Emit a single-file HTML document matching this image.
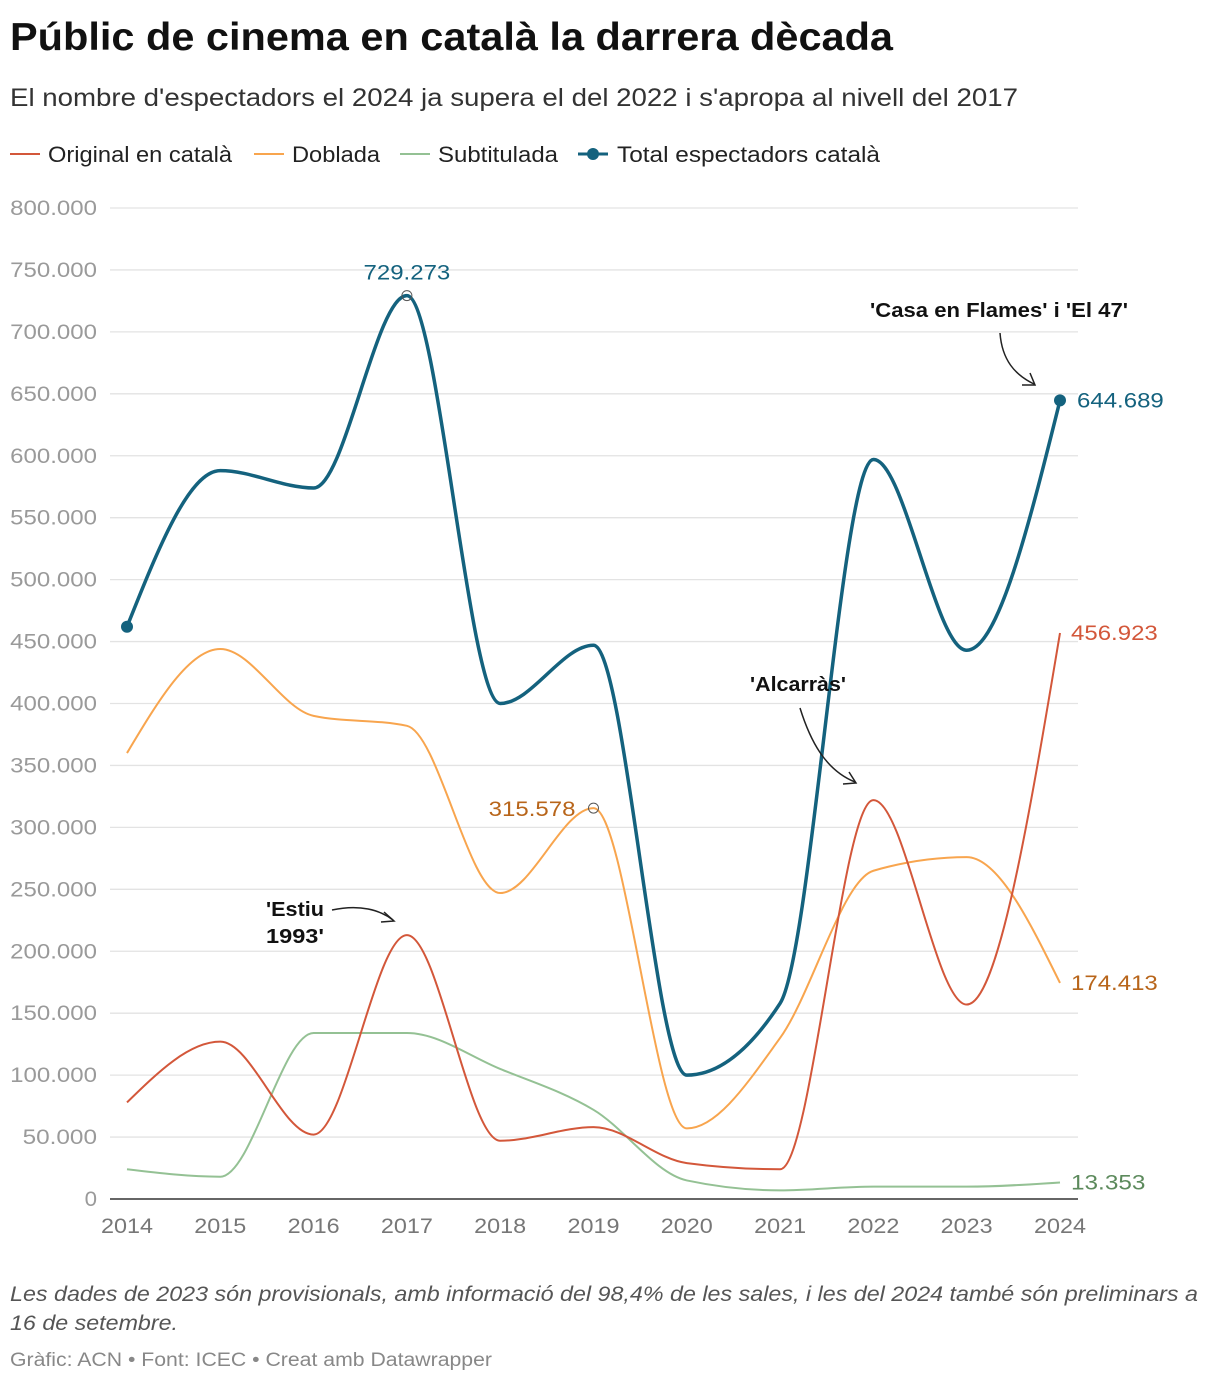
<!DOCTYPE html>
<html><head><meta charset="utf-8">
<style>
body{margin:0;background:#fff;font-family:"Liberation Sans",sans-serif;}
svg text{font-family:"Liberation Sans",sans-serif;}
</style></head>
<body>
<svg id="chart" width="1220" height="1382" viewBox="0 0 1220 1382" xmlns="http://www.w3.org/2000/svg">
<text x="10" y="50" font-size="39" font-weight="bold" fill="#111" textLength="883" lengthAdjust="spacingAndGlyphs">Públic de cinema en català la darrera dècada</text>
<text x="10" y="106" font-size="25" fill="#333" textLength="1008" lengthAdjust="spacingAndGlyphs">El nombre d'espectadors el 2024 ja supera el del 2022 i s'apropa al nivell del 2017</text>
<g font-size="22" fill="#222">
 <g><line x1="10" x2="40" y1="154" y2="154" stroke="#d3573a" stroke-width="2"/><text x="48" y="162" textLength="184" lengthAdjust="spacingAndGlyphs">Original en català</text></g>
 <g><line x1="254" x2="284" y1="154" y2="154" stroke="#f8a54e" stroke-width="2"/><text x="292" y="162" textLength="88" lengthAdjust="spacingAndGlyphs">Doblada</text></g>
 <g><line x1="400" x2="430" y1="154" y2="154" stroke="#94c194" stroke-width="2"/><text x="438" y="162" textLength="120" lengthAdjust="spacingAndGlyphs">Subtitulada</text></g>
 <g><line x1="578" x2="608" y1="154" y2="154" stroke="#14627e" stroke-width="3"/><circle cx="593" cy="154" r="6" fill="#14627e"/><text x="617" y="162" textLength="263" lengthAdjust="spacingAndGlyphs">Total espectadors català</text></g>
</g>
<g id="grid"></g>
<g id="series"></g>
<g id="labels"></g>
<g font-size="20" font-weight="bold" fill="#111">
 <text x="266" y="916" textLength="58" lengthAdjust="spacingAndGlyphs">'Estiu</text>
 <text x="266" y="943" textLength="58" lengthAdjust="spacingAndGlyphs">1993'</text>
 <path d="M332 910 C360 904 380 910 393 920" stroke="#222" stroke-width="1.5" fill="none"/>
 <path d="M384 912 L394 921 L381 922" stroke="#222" stroke-width="1.5" fill="none"/>
 <text x="750" y="691" textLength="96" lengthAdjust="spacingAndGlyphs">'Alcarràs'</text>
 <path d="M800 708 C810 740 825 770 855 782" stroke="#222" stroke-width="1.5" fill="none"/>
 <path d="M843 784 L856 783 L849 772" stroke="#222" stroke-width="1.5" fill="none"/>
 <text x="870" y="317" textLength="258" lengthAdjust="spacingAndGlyphs">'Casa en Flames' i 'El 47'</text>
 <path d="M1000 333 C1002 360 1015 375 1034 384" stroke="#222" stroke-width="1.5" fill="none"/>
 <path d="M1022 385 L1035 385 L1030 373" stroke="#222" stroke-width="1.5" fill="none"/>
</g>
<text x="10" y="1301" font-size="21" font-style="italic" fill="#555" textLength="1188" lengthAdjust="spacingAndGlyphs">Les dades de 2023 són provisionals, amb informació del 98,4% de les sales, i les del 2024 també són preliminars a</text>
<text x="10" y="1330" font-size="21" font-style="italic" fill="#555" textLength="168" lengthAdjust="spacingAndGlyphs">16 de setembre.</text>
<text x="10" y="1366" font-size="19" fill="#888" textLength="482" lengthAdjust="spacingAndGlyphs">Gràfic: ACN • Font: ICEC • Creat amb Datawrapper</text>
</svg>
<script>
const years=[2014,2015,2016,2017,2018,2019,2020,2021,2022,2023,2024];
const yTicks=[0,50000,100000,150000,200000,250000,300000,350000,400000,450000,500000,550000,600000,650000,700000,750000,800000];
const original=[78000,127000,52000,213000,47000,58000,29000,24000,322000,157000,456923];
const doblada=[360000,444000,390000,382000,247000,315578,57000,130000,265000,276000,174413];
const subtitulada=[24000,18000,134000,134000,105000,72000,15000,7000,10000,10000,13353];
const total=[462000,588000,574000,729273,400000,447000,100000,158000,597000,443000,644689];
const NS="http://www.w3.org/2000/svg";
const xS=y=>127+(y-2014)*93.3;
const yS=v=>1199-v*(991/800000);
function mk(t,a,p){const e=document.createElementNS(NS,t);for(const k in a)e.setAttribute(k,a[k]);if(p)p.appendChild(e);return e;}
const grid=document.getElementById('grid'),ser=document.getElementById('series'),lab=document.getElementById('labels');
yTicks.forEach(v=>{
 const l=mk('line',{x1:110,x2:1078,y1:yS(v),y2:yS(v),stroke:v===0?'#333':'#e3e3e3','stroke-width':v===0?1.5:1.3},grid);
 
 
 const s=v===0?'0':v.toLocaleString('de-DE');
 const t=mk('text',{x:97,y:yS(v)+7,'text-anchor':'end','font-size':21,fill:'#9a9a9a',textLength:s.length*12.4,lengthAdjust:'spacingAndGlyphs'},grid);
 t.textContent=s;
 
 
});
years.forEach(y=>{
 const t=mk('text',{x:xS(y),y:1233,'text-anchor':'middle','font-size':21,fill:'#777',textLength:52,lengthAdjust:'spacingAndGlyphs'},grid);
 t.textContent=y;
 
 
});
function monotone(xs,ys){
 const n=xs.length,d=[],m=[];
 for(let i=0;i<n-1;i++)d.push((ys[i+1]-ys[i])/(xs[i+1]-xs[i]));
 for(let i=0;i<n;i++){
  if(i===0)m.push(d[0]);else if(i===n-1)m.push(d[n-2]);
  else m.push(d[i-1]*d[i]<=0?0:(()=>{const h0=xs[i]-xs[i-1],h1=xs[i+1]-xs[i];const p=(d[i-1]*h1+d[i]*h0)/(h0+h1);return Math.sign(d[i])*Math.min(Math.abs(p),2*Math.abs(d[i-1]),2*Math.abs(d[i]))})());
 }
 if(n>2){m[0]=(3*d[0]-m[1])/2;m[n-1]=(3*d[n-2]-m[n-2])/2;}
 let s=`M${xs[0]},${ys[0]}`;
 for(let i=0;i<n-1;i++){const h=(xs[i+1]-xs[i])/3;s+=` C${xs[i]+h},${ys[i]+m[i]*h} ${xs[i+1]-h},${ys[i+1]-m[i+1]*h} ${xs[i+1]},${ys[i+1]}`;}
 return s;
}
function line(data,color,w,name){
 const p=mk('path',{d:monotone(years.map(xS),data.map(yS)),fill:'none',stroke:color,'stroke-width':w,'stroke-linejoin':'round'},ser);
 
 
}
line(subtitulada,'#94c194',2,'line-subtitulada');
line(doblada,'#f8a54e',2,'line-doblada');
line(original,'#d3573a',2,'line-original');
line(total,'#14627e',3.5,'line-total');
const fmt=v=>v.toLocaleString('de-DE');
function lbl(x,y,txt,color,anchor,name){const t=mk('text',{x:x,y:y,'font-size':21,fill:color,'text-anchor':anchor||'start',textLength:txt.length*12.4,lengthAdjust:'spacingAndGlyphs'},lab);t.textContent=txt;}
[[0,'dot-total-2014'],[10,'dot-total-2024']].forEach(([i,n])=>{const c=mk('circle',{cx:xS(years[i]),cy:yS(total[i]),r:6,fill:'#14627e'},ser);});
const c1=mk('circle',{cx:xS(2017),cy:yS(total[3]),r:5,fill:'none',stroke:'#555'},ser);


const c2=mk('circle',{cx:xS(2019),cy:yS(doblada[5]),r:5,fill:'none',stroke:'#555'},ser);


lbl(xS(2017),yS(total[3])-16,fmt(total[3]),'#14627e','middle','label-total-2017');
lbl(xS(2019)-18,yS(doblada[5])+8,fmt(doblada[5]),'#b8651a','end','label-doblada-2019');
lbl(1077,yS(total[10])+7,fmt(total[10]),'#14627e','start','label-total-2024');
lbl(1071,yS(original[10])+7,fmt(original[10]),'#d3573a','start','label-original-2024');
lbl(1071,yS(doblada[10])+7,fmt(doblada[10]),'#b8651a','start','label-doblada-2024');
lbl(1071,yS(subtitulada[10])+7,fmt(subtitulada[10]),'#5c8a5c','start','label-subtitulada-2024');
</script>
</body></html>
